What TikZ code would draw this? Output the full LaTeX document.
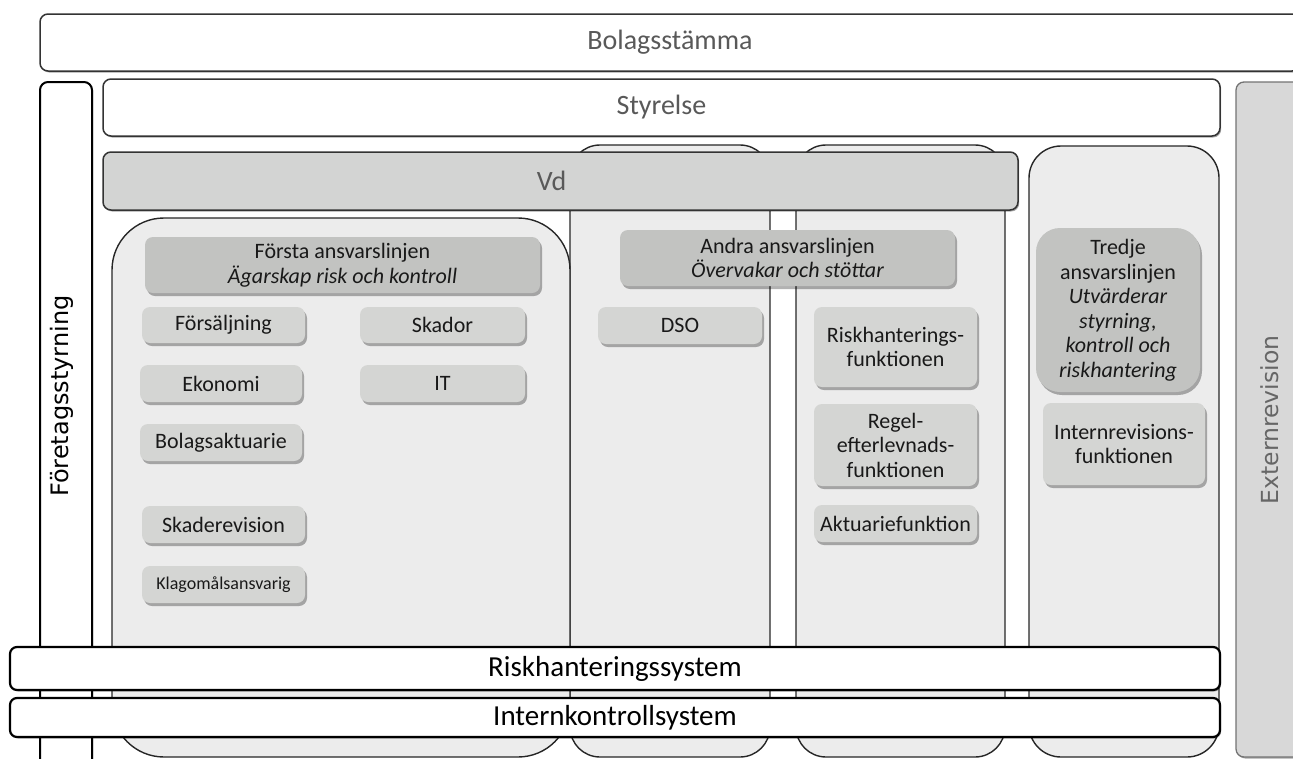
\documentclass[tikz,border=0pt]{standalone}
\usepackage{fontspec}
\setmainfont{Carlito}
\newfontfamily\vfont{DejaVu Sans}
\usetikzlibrary{shadows}
\definecolor{itemgray}{HTML}{D4D5D3}
\definecolor{hdrgray}{HTML}{C2C3C1}
\definecolor{colgray}{HTML}{ECECEC}
\definecolor{vdgray}{HTML}{D3D4D3}
\definecolor{extgray}{HTML}{D8D8D8}
\newcommand\bx[7]{\node[#6, minimum width={(#4)-(#2)}, minimum height={(#5)-(#3)}] (#1) at ({((#2)+(#4))/2},{((#3)+(#5))/2}) {#7};}
\tikzset{
  base/.style={inner sep=0pt, outer sep=0pt},
  bigbox/.style={base, rounded corners=8pt, draw=black!80, line width=1.5pt, fill=white,
    drop shadow={shadow xshift=1.2pt, shadow yshift=-1.5pt, fill=black, opacity=0.35},
    font=\fontsize{28}{32}\selectfont, text=black!65},
  sysbox/.style={base, rounded corners=7pt, draw=black, line width=2.2pt, fill=white,
    drop shadow={shadow xshift=1.2pt, shadow yshift=-1.5pt, fill=black, opacity=0.3},
    font=\fontsize{29}{32}\selectfont, text=black},
  colbox/.style={base, rounded corners=#1, draw=black!85, line width=1.4pt, fill=colgray},
  item/.style={base, rounded corners=8pt, fill=itemgray, align=center,
    drop shadow={shadow xshift=2pt, shadow yshift=-3pt, fill=black, opacity=0.3},
    font=\fontsize{22}{24.5}\selectfont, text=black!90},
  hdr/.style={item, fill=hdrgray},
}
\begin{document}
\begin{tikzpicture}[x=1pt,y=-1pt]
\useasboundingbox (0,0) rectangle (1293,758);
\clip (0,0) rectangle (1293,758);
% outer frame boxes
\bx{bst}{40}{14}{1300}{71}{bigbox}{Bolagsstämma}
\bx{ftg}{40}{82}{92}{790}{bigbox, draw=black, line width=2pt}{}
\node[rotate=90, font=\vfont\fontsize{24}{28}\selectfont, text=black] (ftgl) at (62,396) {Företagsstyrning};
\bx{ext}{1236}{82}{1320}{757}{bigbox, fill=extgray, draw=black!55, line width=1.3pt}{}
\node[rotate=90, font=\vfont\fontsize{23.5}{28}\selectfont, text=black!60] (extl) at (1270,420) {Externrevision};
% columns
\bx{col2}{570}{145}{770}{757}{colbox=30pt}{}
\bx{col3}{796}{145}{1005}{757}{colbox=30pt}{}
\bx{col4}{1029}{146}{1219}{757}{colbox=32pt}{}
\bx{col1}{112}{218}{570}{757}{colbox=52pt}{}
% board and CEO
\bx{sty}{103}{79}{1220}{136}{bigbox}{Styrelse}
\bx{vd}{103}{152}{1018}{210}{bigbox, fill=vdgray}{\hspace*{-18pt}Vd}
% first line
\bx{hdr1}{145}{237}{540}{293}{hdr}{Första ansvarslinjen\\{\itshape Ägarskap risk och kontroll}}
\bx{fors}{142}{307}{305}{343}{item}{Försäljning}
\bx{skad}{360}{307}{525}{343}{item}{Skador}
\bx{ekon}{140}{365}{302}{402}{item}{Ekonomi}
\bx{it}{360}{365}{525}{402}{item}{IT}
\bx{bola}{140}{424}{302}{461}{item}{Bolagsaktuarie}
\bx{skrev}{142}{506}{305}{543}{item}{Skaderevision}
\bx{klag}{142}{566}{305}{603}{item, font=\fontsize{18}{22}\selectfont}{Klagomålsansvarig}
% second line
\bx{hdr2}{620}{230}{955}{286}{hdr}{Andra ansvarslinjen\\{\itshape Övervakar och stöttar}}
\bx{dso}{598}{307}{762}{344}{item}{DSO}
\bx{risk}{814}{307}{977}{387}{item}{Riskhanterings-\\funktionen}
\bx{regel}{814}{404}{977}{486}{item}{Regel-\\efterlevnads-\\funktionen}
\bx{akt}{814}{505}{977}{542}{item}{Aktuariefunktion}
% third line
\bx{tred}{1036}{228}{1200}{392}{hdr, rounded corners=24pt}{Tredje\\ansvarslinjen\\{\itshape Utvärderar}\\{\itshape styrning,}\\{\itshape kontroll och}\\{\itshape riskhantering}}
\bx{intrev}{1043}{403}{1205}{485}{item}{Internrevisions-\\funktionen}
% systems
\bx{rhs}{10}{647}{1220}{690}{sysbox}{Riskhanteringssystem}
\bx{iks}{10}{698}{1220}{737}{sysbox}{Internkontrollsystem}
\end{tikzpicture}
\end{document}
